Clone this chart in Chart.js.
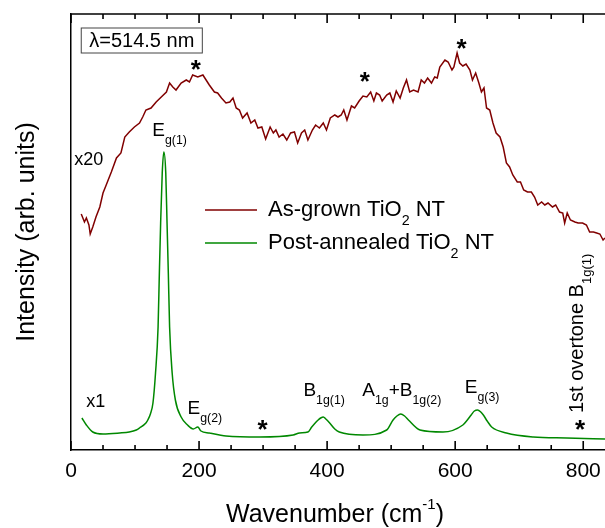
<!DOCTYPE html>
<html>
<head>
<meta charset="utf-8">
<script src="https://cdn.jsdelivr.net/npm/chart.js@4.4.1/dist/chart.umd.min.js"></script>
<style>
  body { margin: 0; background: #fff; }
  #wrap { width: 605px; height: 528px; }
</style>
</head>
<body>
<div id="wrap"><canvas id="graph1" width="605" height="528"></canvas></div>
<script>
// Raman spectra, wavenumber in cm-1, intensity in arbitrary units
let asGrownX = [16, 21, 24, 28, 30, 34, 39, 45, 50, 55, 63, 71, 78, 84, 91, 99, 107, 112, 117, 125, 133, 141, 149, 154, 159, 164, 172, 180, 185, 190, 198, 206, 211, 216, 224, 229, 235, 242, 248, 253, 258, 263, 268, 275, 281, 287, 292, 298, 304, 311, 316, 320, 325, 331, 337, 343, 349, 354, 360, 365, 370, 377, 382, 388, 394, 399, 405, 412, 417, 422, 426, 431, 438, 443, 450, 456, 462, 468, 473, 477, 482, 486, 493, 498, 503, 508, 514, 519, 524, 529, 535, 542, 547, 552, 557, 563, 568, 572, 576, 584, 589, 595, 598, 603, 607, 612, 617, 623, 627, 632, 637, 641, 645, 649, 654, 659, 664, 670, 675, 680, 685, 690, 697, 702, 707, 713, 719, 724, 729, 735, 740, 745, 752, 757, 763, 768, 771, 775, 780, 787, 792, 799, 805, 810, 816, 821, 826, 831, 834];
let asGrownY = [236, 228, 232, 225, 216, 223, 233, 243, 257, 265, 278, 292, 297, 313, 318, 323, 327, 333, 340, 342, 348, 353, 358, 367, 363, 360, 367, 370, 368, 375, 373, 375, 370, 365, 358, 357, 352, 347, 348, 352, 342, 340, 332, 337, 327, 330, 322, 323, 311, 323, 317, 320, 313, 316, 310, 317, 318, 307, 317, 320, 310, 320, 325, 322, 327, 320, 332, 335, 333, 335, 340, 330, 344, 342, 349, 354, 353, 358, 349, 357, 355, 349, 355, 357, 348, 359, 352, 362, 370, 358, 360, 358, 370, 367, 372, 367, 373, 372, 383, 390, 388, 380, 383, 397, 387, 384, 386, 380, 370, 377, 367, 358, 362, 342, 340, 327, 317, 313, 303, 287, 283, 275, 268, 268, 260, 258, 258, 253, 245, 248, 245, 247, 243, 245, 238, 237, 227, 237, 230, 228, 227, 227, 225, 218, 218, 217, 216, 210, 212];

let annealedX = [17, 24, 34, 50, 76, 91, 102, 107, 117, 120, 124, 128, 132, 136, 138, 140, 142.5, 145, 148, 150, 152, 154, 158, 163, 172, 182, 191, 198, 203, 216, 232, 242, 295, 347, 357, 370, 376, 380, 386, 390, 394, 398, 404, 412, 419, 456, 493, 503, 509, 515, 521, 527, 545, 581, 612, 619, 625, 630, 635, 640, 644, 650, 657, 680, 722, 774, 834];
let annealedY = [32, 25, 18, 16, 17, 18, 20, 22, 27, 30, 36, 47, 77, 123, 177, 227, 277, 298, 277, 227, 177, 123, 77, 50, 33, 25, 21, 23, 19, 17, 15, 14, 13, 15, 17, 18, 23, 26, 30, 32, 33, 31, 27, 21, 18, 15, 20, 30, 34, 36, 34, 30, 20, 18, 25, 30, 35, 39, 40, 38, 35, 29, 23, 17, 13, 12, 11];

let seriesNames = ["As-grown TiO", "Post-annealed TiO"];
let seriesColors = ["#800000", "#008800"];
let xTicks = [0, 200, 400, 600, 800];
let xMinorTicks = [50, 100, 150, 250, 300, 350, 450, 500, 550, 650, 700, 750];

function toPoints(xs, ys) {
  let pts = [];
  for (let i = 0; i < xs.length; i++) {
    pts.push({ x: xs[i], y: ys[i] });
  }
  return pts;
}

// writes text with subscripts / superscripts, left aligned, middle baseline
function drawRich(ctx, x, y, parts, size) {
  let cx = x;
  ctx.textAlign = "left";
  ctx.textBaseline = "middle";
  for (let p of parts) {
    let s = size, dy = 0;
    if (p[1] == "sub") { s = size * 0.65; dy = size * 0.5; }
    if (p[1] == "sup") { s = size * 0.6; dy = -size * 0.4; }
    ctx.font = s + "px 'Liberation Sans', Arial, sans-serif";
    ctx.fillText(p[0], cx, y + dy);
    cx += ctx.measureText(p[0]).width;
  }
  return cx - x;
}

function star(ctx, x, y) {
  ctx.font = "bold 26px 'Liberation Sans', Arial, sans-serif";
  ctx.textAlign = "center";
  ctx.textBaseline = "alphabetic";
  ctx.fillText("*", x, y + 15);
}

// inward tick marks on the bottom and top edges of the plot
function drawTicks(ctx, xs, a) {
  ctx.save();
  ctx.strokeStyle = "#000";
  ctx.lineWidth = 1.6;
  ctx.beginPath();
  for (let v of xTicks) {
    let x = xs.getPixelForValue(v);
    ctx.moveTo(x, a.bottom);
    ctx.lineTo(x, a.bottom - 9);
    ctx.moveTo(x, a.top);
    ctx.lineTo(x, a.top + 9);
  }
  for (let v of xMinorTicks) {
    let x = xs.getPixelForValue(v);
    ctx.moveTo(x, a.bottom);
    ctx.lineTo(x, a.bottom - 5);
    ctx.moveTo(x, a.top);
    ctx.lineTo(x, a.top + 5);
  }
  ctx.stroke();
  ctx.restore();
}

const extras = {
  id: "extras",
  afterDraw(chart) {
    let ctx = chart.ctx;
    let xs = chart.scales.x, ys = chart.scales.y;
    let a = chart.chartArea;
    let px = v => xs.getPixelForValue(v);
    let py = v => ys.getPixelForValue(v);
    ctx.save();
    ctx.strokeStyle = "#000";
    ctx.fillStyle = "#000";
    ctx.lineWidth = 1.5;

    // top frame line
    ctx.beginPath();
    ctx.moveTo(a.left, a.top);
    ctx.lineTo(a.right, a.top);
    ctx.stroke();

    drawTicks(ctx, xs, a);

    // x axis title with superscript
    let parts = [["Wavenumber (cm", ""], ["-1", "sup"], [")", ""]];
    let w = 0;
    for (let p of parts) {
      ctx.font = (p[1] ? 15 : 25) + "px 'Liberation Sans', Arial, sans-serif";
      w += ctx.measureText(p[0]).width;
    }
    drawRich(ctx, 335 - w / 2, 515, parts, 25);

    // laser line box
    let bx = px(16), by = py(422);
    ctx.font = "20px 'Liberation Sans', Arial, sans-serif";
    let tw = ctx.measureText("λ=514.5 nm").width;
    ctx.strokeStyle = "#444";
    ctx.lineWidth = 1;
    ctx.strokeRect(bx, by, tw + 16, 25);
    ctx.textAlign = "left";
    ctx.textBaseline = "middle";
    ctx.fillText("λ=514.5 nm", bx + 8, by + 13);

    // scale factors
    drawRich(ctx, px(5), py(290), [["x20", ""]], 18);
    drawRich(ctx, px(24), py(48), [["x1", ""]], 18);

    // mode labels
    drawRich(ctx, px(127), py(319), [["E", ""], ["g(1)", "sub"]], 19);
    drawRich(ctx, px(182), py(41), [["E", ""], ["g(2)", "sub"]], 19);
    drawRich(ctx, px(363), py(59), [["B", ""], ["1g(1)", "sub"]], 19);
    drawRich(ctx, px(455), py(59), [["A", ""], ["1g", "sub"], ["+B", ""], ["1g(2)", "sub"]], 19);
    drawRich(ctx, px(615), py(62), [["E", ""], ["g(3)", "sub"]], 19);

    // stars
    star(ctx, px(195), py(387));
    star(ctx, px(459), py(375));
    star(ctx, px(610), py(408));
    star(ctx, px(299), py(27));
    star(ctx, px(795), py(27));

    // rotated overtone label
    ctx.save();
    ctx.translate(px(791), py(37));
    ctx.rotate(-Math.PI / 2);
    drawRich(ctx, 0, 0, [["1st overtone B", ""], ["1g(1)", "sub"]], 20);
    ctx.restore();

    // legend
    let rows = [240, 207];
    for (let i = 0; i < 2; i++) {
      let y = py(rows[i]);
      ctx.strokeStyle = seriesColors[i];
      ctx.lineWidth = 1.5;
      ctx.beginPath();
      ctx.moveTo(205, y);
      ctx.lineTo(257, y);
      ctx.stroke();
      ctx.fillStyle = "#000";
      drawRich(ctx, 268, y, [[seriesNames[i], ""], ["2", "sub"], [" NT", ""]], 22);
    }
    ctx.restore();
  }
};

let ctx = document.getElementById("graph1");

new Chart(ctx, {
  type: "line",
  data: {
    datasets: [
      {
        label: seriesNames[0],
        data: toPoints(asGrownX, asGrownY),
        borderColor: seriesColors[0],
        borderWidth: 1.5,
      },
      {
        label: seriesNames[1],
        data: toPoints(annealedX, annealedY),
        borderColor: seriesColors[1],
        borderWidth: 1.5,
        cubicInterpolationMode: "monotone",
      },
    ],
  },
  options: {
    responsive: false,
    animation: false,
    layout: { padding: { top: 14, right: 0, left: 0, bottom: 0 } },
    elements: { point: { radius: 0 }, line: { tension: 0 } },
    plugins: {
      legend: { display: false },
      tooltip: { enabled: false },
    },
    scales: {
      x: {
        type: "linear",
        min: 0,
        max: 834,
        grid: { display: false, drawTicks: false },
        border: { display: true, color: "#000", width: 1.5 },
        ticks: {
          color: "#000",
          padding: 9,
          font: { size: 21, family: "'Liberation Sans', Arial, sans-serif" },
        },
        afterBuildTicks: (scale) => {
          scale.ticks = xTicks.map((v) => ({ value: v }));
        },
        afterFit: (scale) => {
          scale.height = 78;
          // plot runs to the right edge, as in the original
          scale.paddingRight = 0;
          scale.paddingLeft = 0;
        },
      },
      y: {
        min: 0,
        max: 436,
        grid: { display: false, drawTicks: false },
        border: { display: true, color: "#000", width: 1.5 },
        ticks: { display: false },
        title: {
          display: true,
          text: "Intensity (arb. units)",
          color: "#000",
          padding: { top: 12, bottom: 0 },
          font: { size: 25, family: "'Liberation Sans', Arial, sans-serif" },
        },
        afterFit: (scale) => {
          scale.width = 71;
        },
      },
    },
  },
  plugins: [extras],
});
</script>
</body>
</html>
